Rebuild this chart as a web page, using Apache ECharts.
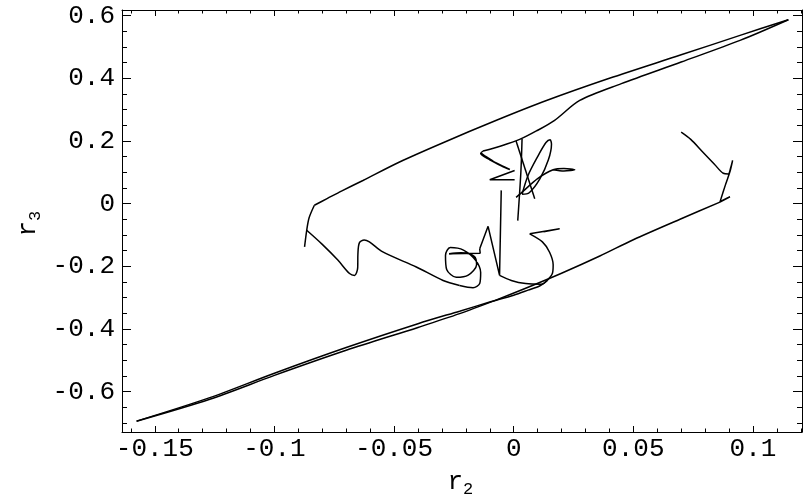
<!DOCTYPE html>
<html><head><meta charset="utf-8">
<script src="https://cdn.jsdelivr.net/npm/echarts@6/dist/echarts.min.js"></script>
<style>html,body{margin:0;padding:0;background:#fff}#c{width:810px;height:495px}</style>
</head><body><div id="c"></div>
<script>
// axis ranges and ticks
const xRange = [-0.1637, 0.1205];
const yRange = [-0.7286, 0.618];
const xMajor = [-0.15, -0.1, -0.05, 0, 0.05, 0.1];
const xLabels = ['-0.15', '-0.1', '-0.05', '0', '0.05', '0.1'];
const xMinor = [-0.16,-0.14,-0.13,-0.12,-0.11,-0.09,-0.08,-0.07,-0.06,-0.04,-0.03,-0.02,-0.01,0.01,0.02,0.03,0.04,0.06,0.07,0.08,0.09,0.11,0.12];
const yMajor = [-0.6, -0.4, -0.2, 0, 0.2, 0.4, 0.6];
const yLabels = ['-0.6', '-0.4', '-0.2', '0', '0.2', '0.4', '0.6'];
const yMinor = [-0.7,-0.65,-0.55,-0.5,-0.45,-0.35,-0.3,-0.25,-0.15,-0.1,-0.05,0.05,0.1,0.15,0.25,0.3,0.35,0.45,0.5,0.55];

// curve pieces (r2, r3)
const hookPiece = [[0.070,0.228],[0.074,0.205],[0.079,0.165],[0.084,0.125],[0.0876,0.097],[0.0897,0.095],[0.0906,0.112],[0.0915,0.138],[0.0905,0.105],[0.0885,0.06],[0.0862,0.005],[0.0904,0.022],[0.0862,0.006]];
const lowerLine = [[0.0862,0.005],[0.07,-0.048],[0.05,-0.115],[0.036,-0.167],[0.02,-0.222],[0.005,-0.27],[-0.0072,-0.307],[-0.0226,-0.351],[-0.04,-0.395],[-0.07,-0.468],[-0.1,-0.548],[-0.127,-0.624],[-0.1576,-0.694]];
const lowerLine2 = [[-0.1576,-0.694],[-0.127,-0.619],[-0.1,-0.541],[-0.07,-0.459],[-0.04,-0.383],[-0.0226,-0.343],[-0.01,-0.314],[0.0,-0.292],[0.006,-0.276],[0.011,-0.262],[0.014,-0.245],[0.0162,-0.222],[0.0165,-0.195],[0.015,-0.155],[0.012,-0.122],[0.0067,-0.0962]];
const sFlick = [[0.0067,-0.0962],[0.0192,-0.0802],[0.0125,-0.09]];
const sPiece = [[-0.0059,-0.229],[-0.001,-0.245],[0.005,-0.255],[0.0115,-0.257],[0.014,-0.245]];
const nPiece = [[-0.0142,-0.1436],[-0.0107,-0.0724],[-0.0059,-0.229],[-0.0052,0.0424]];
const smallLoop = [[-0.0226,-0.261],[-0.017,-0.268],[-0.0142,-0.255],[-0.0138,-0.22],[-0.016,-0.18],[-0.021,-0.148],[-0.0265,-0.14],[-0.0285,-0.165],[-0.028,-0.21],[-0.024,-0.235],[-0.019,-0.228],[-0.0155,-0.195],[-0.0165,-0.168],[-0.022,-0.157],[-0.027,-0.16]];
const loopBar = [[-0.027,-0.16],[-0.014,-0.158],[-0.0142,-0.1436]];
const leftWave = [[-0.0865,-0.085],[-0.08,-0.13],[-0.0735,-0.18],[-0.0686,-0.223],[-0.0665,-0.229],[-0.0652,-0.205],[-0.0651,-0.16],[-0.0645,-0.125],[-0.0625,-0.116],[-0.0603,-0.122],[-0.0547,-0.154],[-0.0407,-0.202],[-0.0295,-0.245],[-0.0226,-0.261]];
const leftStroke = [[-0.0874,-0.138],[-0.0865,-0.085],[-0.0855,-0.045],[-0.0833,-0.005]];
const upperLine = [[-0.0833,-0.005],[-0.078,0.016],[-0.072,0.040],[-0.063,0.074],[-0.0477,0.133],[-0.03,0.193],[-0.0072,0.266],[0.0137,0.329],[0.04,0.40],[0.07,0.475],[0.0946,0.537],[0.1148,0.587]];
const innerLine = [[0.1148,0.587],[0.0946,0.521],[0.07,0.452],[0.045,0.383],[0.0276,0.3295],[0.0171,0.266],[0.0095,0.232],[0.0025,0.205],[-0.005,0.185],[-0.0128,0.168]];
const starLeaf = [[-0.0128,0.168],[-0.0138,0.16],[-0.01,0.14],[-0.005,0.12],[-0.0016,0.109],[-0.004,0.118],[-0.0085,0.135],[-0.0125,0.155],[-0.0138,0.162]];
const starWedge = [[0.0004,0.106],[-0.010,0.0765],[0.0004,0.0765]];
const vertStroke = [[0.0035,0.207],[0.003,0.1],[0.0017,-0.054]];
const ellipse = [[0.0035,0.03],[0.006,0.09],[0.010,0.15],[0.0135,0.195],[0.0152,0.204],[0.0158,0.19],[0.0145,0.14],[0.011,0.08],[0.0065,0.035],[0.0035,0.03]];
const crossLine = [[0.001,0.2],[0.0088,0.016]];
const flatLoop = [[0.001,0.02],[0.004,0.04],[0.01,0.08],[0.0165,0.108],[0.021,0.112],[0.0255,0.108],[0.021,0.104],[0.0165,0.108]];

const smoothPieces = [hookPiece, lowerLine, lowerLine2, sPiece, smallLoop, leftWave, leftStroke, upperLine, innerLine, starLeaf, vertStroke, ellipse, flatLoop];
const sharpPieces = [sFlick, nPiece, loopBar, starWedge, crossLine];

const FONT = '"Liberation Mono", "DejaVu Sans Mono", monospace';
const black = '#000';
function lab(vals, labs) { return function (v) { let b = 0; for (let i = 1; i < vals.length; i++) if (Math.abs(vals[i]-v) < Math.abs(vals[b]-v)) b = i; return labs[b]; }; }

function xAx(grid, pos, major) {
  return {
    type: 'value', gridIndex: grid, position: pos, min: xRange[0], max: xRange[1],
    axisLine: { show: major, onZero: false, lineStyle: { color: black, width: 1 } },
    axisTick: { show: true, inside: true, length: major ? 6 : 3.5, customValues: major ? xMajor : xMinor, lineStyle: { color: black, width: 1 } },
    axisLabel: { show: major && pos === 'bottom', customValues: xMajor, formatter: lab(xMajor, xLabels), fontFamily: FONT, fontSize: 26, color: black, margin: 4 },
    splitLine: { show: false }
  };
}
function yAx(grid, pos, major) {
  return {
    type: 'value', gridIndex: grid, position: pos, min: yRange[0], max: yRange[1],
    axisLine: { show: major, onZero: false, lineStyle: { color: black, width: 1 } },
    axisTick: { show: true, inside: true, length: major ? 9 : 5, customValues: major ? yMajor : yMinor, lineStyle: { color: black, width: 1 } },
    axisLabel: { show: major && pos === 'left', customValues: yMajor, formatter: lab(yMajor, yLabels), fontFamily: FONT, fontSize: 26, color: black, margin: 7 },
    splitLine: { show: false }
  };
}
const gridBox = { left: 122, top: 10, width: 680, height: 422 };
function mkSeries(p, sm) {
  return { type: 'line', xAxisIndex: 0, yAxisIndex: 0, data: p, showSymbol: false, symbol: 'none', smooth: sm,
    lineStyle: { color: black, width: 1.5 }, emphasis: { disabled: true }, silent: true };
}
const chart = echarts.init(document.getElementById('c'), null, { renderer: 'canvas' });
chart.setOption({
  animation: false,
  backgroundColor: '#fff',
  grid: [Object.assign({}, gridBox), Object.assign({}, gridBox)],
  xAxis: [xAx(0, 'bottom', true), xAx(0, 'top', true), xAx(1, 'bottom', false), xAx(1, 'top', false)],
  yAxis: [yAx(0, 'left', true), yAx(0, 'right', true), yAx(1, 'left', false), yAx(1, 'right', false)],
  graphic: [
    { type: 'text', x: 463, y: 482, style: { text: 'r', font: '26px ' + FONT, fill: black, align: 'right', verticalAlign: 'middle' } },
    { type: 'text', x: 463, y: 489, style: { text: '2', font: '17px ' + FONT, fill: black, align: 'left', verticalAlign: 'middle' } },
    { type: 'group', x: 28, y: 221, rotation: Math.PI / 2, children: [
      { type: 'text', x: 0, y: 0, style: { text: 'r', font: '26px ' + FONT, fill: black, align: 'right', verticalAlign: 'middle' } },
      { type: 'text', x: 0, y: 7, style: { text: '3', font: '17px ' + FONT, fill: black, align: 'left', verticalAlign: 'middle' } }
    ] }
  ],
  series: smoothPieces.map(function (p) { return mkSeries(p, 0.3); })
    .concat(sharpPieces.map(function (p) { return mkSeries(p, false); }))
});
</script></body></html>
